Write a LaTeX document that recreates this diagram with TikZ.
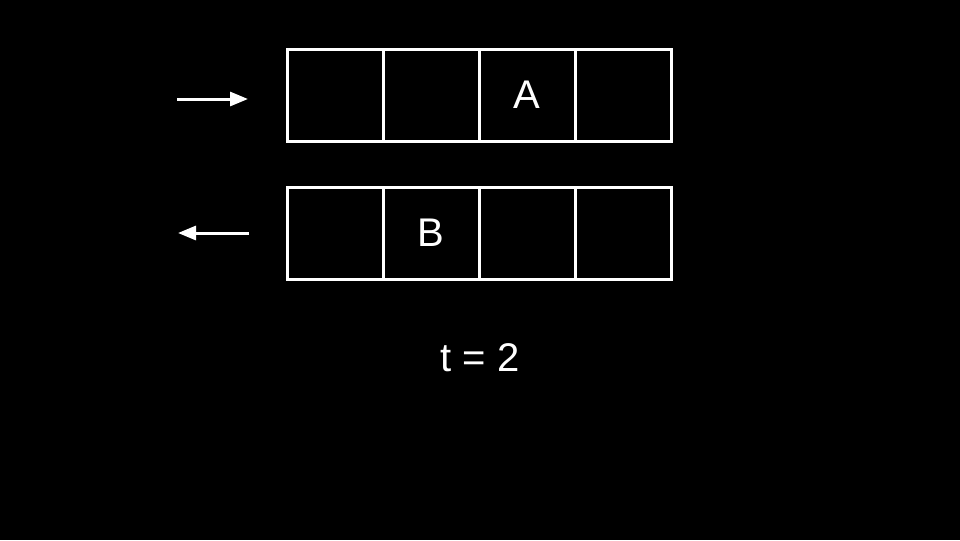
\documentclass[tikz,border=0pt]{standalone}
\usepackage{fontspec}
\setmainfont{Liberation Sans}
\usetikzlibrary{arrows.meta,positioning}

\begin{document}
\begin{tikzpicture}[x=0.75pt,y=-0.75pt,
    cell/.style={draw=white, line width=2.25pt, minimum width=72pt, minimum height=69pt, inner sep=0pt, text=white, font=\fontsize{30}{36}\selectfont},
    flow/.style={draw=white, line width=2.25pt, -{Triangle[length=13.5pt,width=10.5pt]}}]
    \fill[black] (0,0) rectangle (960,540);
    \useasboundingbox (0,0) rectangle (960,540);

    % upper row
    \foreach \i/\t in {1/,2/,3/A,4/}
        \node[cell] (up\i) at ({239+96*\i},95) {\t};
    % lower row
    \foreach \i/\t in {1/,2/B,3/,4/}
        \node[cell] (low\i) at ({239+96*\i},233) {\t};

    \coordinate (upin) at (177,99);
    \coordinate (upout) at (248,99);
    \coordinate (lowin) at (249,233);
    \coordinate (lowout) at (178,233);
    \draw[flow] (upin) -- (upout);
    \draw[flow] (lowin) -- (lowout);

    \node[text=white, font=\fontsize{30}{36}\selectfont] (clock) at (480,358) {t = 2};
\end{tikzpicture}
\end{document}
